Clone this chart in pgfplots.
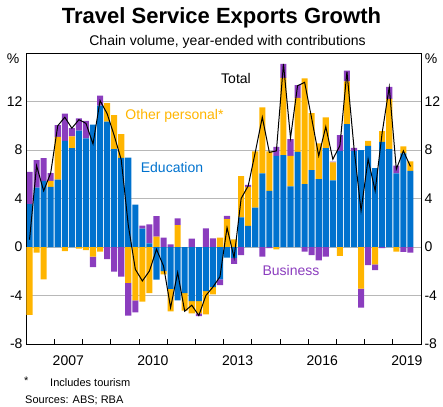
\documentclass[border=0pt]{standalone}
\usepackage{pgfplots}
\pgfplotsset{compat=1.18}
\usepackage{pgfplotstable}
\usepackage{fontspec}
\setmainfont{Liberation Sans}
\definecolor{edu}{RGB}{0,114,206}
\definecolor{oth}{RGB}{255,181,0}
\definecolor{bus}{RGB}{139,61,190}

\pgfplotstableread{
i E O B T
0 3.53 -5.6 2.67 0.6
1 4.9 -0.47 2.26 6.7
2 5.46 -2.67 1.87 4.63
3 4.96 0.49 0.65 6.1
4 5.56 3.53 0.96 10.0
5 8.76 -0.33 2.24 10.7
6 8.15 0.97 0.68 9.8
7 9.59 -0.14 1.01 10.5
8 8.95 -0.25 1.45 10.2
9 10.1 -0.8 -0.85 8.5
10 11.65 -0.38 0.83 12.07
11 10.33 1.54 -1.0 11.0
12 8.07 2.81 -2.04 9.2
13 7.35 1.95 -2.45 7.2
14 7.38 -2.95 -2.7 1.8
15 3.5 -4.4 -1.0 -1.84
16 1.51 -4.5 0.25 -2.8
17 0.3 -3.8 1.57 -1.98
18 -2.7 0.85 1.7 -0.19
19 -1.98 -0.28 0.77 -1.57
20 -3.45 -1.85 0.22 -5.0
21 -4.4 1.81 0.55 -2.1
22 -3.8 -1.45 0.0 -5.3
23 -4.46 -1.02 0.69 -4.8
24 -4.46 -1.02 -0.22 -5.65
25 -3.63 -1.93 1.54 -4.0
26 -3.3 -0.6 0.72 -3.3
27 -2.67 0.77 -0.47 -2.45
28 -0.88 2.29 0.27 1.6
29 -0.9 0.63 -0.5 -0.88
30 2.45 3.4 -0.66 4.0
31 1.74 3.22 0.17 5.04
32 3.25 4.63 0.0 7.8
33 6.07 5.45 -0.8 10.7
34 4.63 3.25 -0.1 7.8
35 7.52 -0.2 0.74 7.93
36 7.58 6.36 1.16 15.1
37 5.0 2.52 1.38 9.0
38 7.85 4.45 1.06 13.3
39 5.18 8.72 -0.39 13.58
40 6.34 4.71 -0.66 10.6
41 5.6 2.95 -1.1 7.52
42 8.16 2.54 -0.8 9.92
43 5.5 1.47 0.08 7.24
44 7.93 -0.74 1.3 8.35
45 10.14 3.53 0.88 14.46
46 7.93 0.0 0.25 8.18
47 8.0 -3.44 -1.56 3.0
48 8.35 0.41 -1.49 7.24
49 6.5 -1.43 -0.47 4.63
50 8.68 0.88 -0.1 9.45
51 8.07 4.15 0.98 13.2
52 6.07 -0.38 0.65 6.42
53 7.72 0.58 -0.4 7.93
54 6.28 0.78 -0.47 6.64
}\data

\pgfplotsset{
  base/.style={
    at={(26pt,-53pt)}, anchor=north west,
    scale only axis, width=395pt, height=291pt,
    xmin=-0.5, xmax=55.5, ymin=-8, ymax=16,
    ytick={-8,-4,0,4,8,12},
    yticklabels={-8,-4,0,4,8,12},
    xtick={3.5,7.5,...,51.5}, xticklabels={},
    xtick pos=left,
    tick align=inside, major tick length=5pt,
    ytick style={draw=none},
    xtick style={black, line width=0.7pt},
    tick label style={font=\fontsize{14}{14}\selectfont},
    xticklabel style={yshift=-8pt},
    axis line style={black, line width=0.8pt},
  },
}

\begin{document}
\begin{tikzpicture}
\path[use as bounding box] (0,0) rectangle (443pt,-406pt);

\begin{axis}[base, ybar stacked, bar width=0.86,
  ymajorgrids, grid style={black!28, line width=0.6pt},
  yticklabel pos=left,
  extra x ticks={5.5,17.5,29.5,41.5,53.5},
  extra x tick labels={2007,2010,2013,2016,2019},
  extra x tick style={major tick length=0pt, grid=none},
]
\addplot[fill=edu, draw=none] table[x=i, y expr={max(\thisrow{E},0)}]{\data};
\addplot[fill=oth, draw=none] table[x=i, y expr={max(\thisrow{O},0)}]{\data};
\addplot[fill=bus, draw=none] table[x=i, y expr={max(\thisrow{B},0)}]{\data};
\end{axis}

\begin{axis}[base, ybar stacked, bar width=0.86,
  yticklabel pos=right,
]
\addplot[fill=edu, draw=none] table[x=i, y expr={min(\thisrow{E},0)}]{\data};
\addplot[fill=oth, draw=none] table[x=i, y expr={min(\thisrow{O},0)}]{\data};
\addplot[fill=bus, draw=none] table[x=i, y expr={min(\thisrow{B},0)}]{\data};
\end{axis}

\begin{axis}[base, hide axis]
\addplot[black, line width=1pt, no marks, sharp plot] table[x=i, y=T]{\data};
\end{axis}

\node[font=\bfseries\fontsize{22}{22}\selectfont] at (221.5pt,-18pt) {Travel Service Exports Growth};
\node[font=\fontsize{14}{14}\selectfont] at (227.5pt,-42pt) {Chain volume, year-ended with contributions};
\node[font=\fontsize{14}{14}\selectfont] at (13pt,-59pt) {\%};
\node[font=\fontsize{14}{14}\selectfont] at (431pt,-59pt) {\%};
\node[font=\fontsize{14}{14}\selectfont] at (236pt,-78pt) {Total};
\node[font=\fontsize{14}{14}\selectfont, text=oth] at (174.5pt,-116pt) {Other personal*};
\node[font=\fontsize{14}{14}\selectfont, text=edu] at (172pt,-167pt) {Education};
\node[font=\fontsize{14}{14}\selectfont, text=bus] at (291pt,-270pt) {Business};
\node[font=\fontsize{11}{11}\selectfont, anchor=west, inner sep=0pt] at (24pt,-381pt) {*};
\node[font=\fontsize{11}{11}\selectfont, anchor=west, inner sep=0pt] at (50pt,-383pt) {Includes tourism};
\node[font=\fontsize{11}{11}\selectfont, anchor=west, inner sep=0pt] at (25pt,-400.5pt) {Sources: ABS; RBA};
\end{tikzpicture}
\end{document}
